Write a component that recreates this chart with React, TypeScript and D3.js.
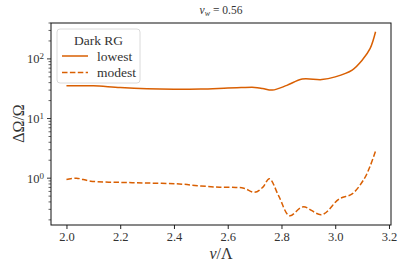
import { useRef, useEffect } from 'react'
import * as d3 from 'd3'

const vValuesLowest = [2.0, 2.05, 2.1, 2.2, 2.3, 2.4, 2.5, 2.6, 2.65, 2.7, 2.73, 2.766, 2.82, 2.877, 2.95, 3.0, 3.063, 3.1, 3.13, 3.15]
const lowest = [35.5, 35.5, 35.5, 33, 31.5, 31, 31.3, 32.5, 33, 33.3, 32, 30, 36, 46, 45, 50, 65, 95, 150, 285]

const vValuesModest = [2.0, 2.037, 2.09, 2.2, 2.3, 2.42, 2.5, 2.57, 2.63, 2.66, 2.7, 2.73, 2.755, 2.79, 2.83, 2.88, 2.95, 3.015, 3.063, 3.108, 3.13, 3.15]
const modest = [0.95, 1.0, 0.89, 0.85, 0.83, 0.8, 0.74, 0.705, 0.70, 0.68, 0.58, 0.7, 0.98, 0.5, 0.235, 0.33, 0.245, 0.45, 0.545, 0.98, 1.6, 2.85]

const xTicks = [2.0, 2.2, 2.4, 2.6, 2.8, 3.0, 3.2]
const yMajorExps = [0, 1, 2]

const seriesColor = '#d95f02'
const serif = "'Liberation Serif', 'DejaVu Serif', serif"

export default function App() {
  const ref = useRef<SVGSVGElement>(null)

  useEffect(() => {
    if (!ref.current) return
    const root = d3.select(ref.current)
    root.selectAll('*').remove()

    const margin = { top: 23, right: 16, bottom: 46, left: 51 }
    const width = 407 - margin.left - margin.right
    const height = 271 - margin.top - margin.bottom

    const svg = root.append('g').attr('transform', `translate(${margin.left},${margin.top})`)

    const x = d3.scaleLinear().domain([1.9425, 3.2075]).range([0, width])
    const y = d3.scaleLog().domain([0.164, 400]).range([height, 0])

    // X axis
    const xAxis = svg
      .append('g')
      .attr('transform', `translate(0,${height})`)
      .call(d3.axisBottom(x).tickValues(xTicks).tickFormat(d3.format('.1f')).tickSize(4).tickPadding(3))
    xAxis.select('.domain').remove()
    xAxis.attr('font-family', null).attr('font-size', null)
    xAxis.selectAll('text').style('font-family', serif).style('font-size', '12.5px').attr('fill', '#333')
    xAxis.selectAll('line').attr('stroke', '#222')

    // Y axis minor ticks
    const minor: number[] = []
    for (let e = -1; e <= 2; e++) {
      for (let m = 2; m <= 9; m++) {
        const v = m * Math.pow(10, e)
        if (v >= 0.164 && v <= 400) minor.push(v)
      }
    }
    svg
      .append('g')
      .selectAll('line')
      .data(minor)
      .join('line')
      .attr('x1', -2.5)
      .attr('x2', 0)
      .attr('y1', (d) => y(d))
      .attr('y2', (d) => y(d))
      .attr('stroke', '#222')
      .attr('stroke-width', 0.7)

    const yMaj = svg.append('g')
    yMajorExps.forEach((e) => {
      const yy = y(Math.pow(10, e))
      yMaj.append('line').attr('x1', -4).attr('x2', 0).attr('y1', yy).attr('y2', yy).attr('stroke', '#222').attr('stroke-width', 0.9)
      const t = yMaj
        .append('text')
        .attr('x', -7)
        .attr('y', yy)
        .attr('dy', '0.35em')
        .attr('text-anchor', 'end')
        .style('font-family', serif)
        .style('font-size', '12.5px')
        .attr('fill', '#333')
      t.append('tspan').text('10')
      t.append('tspan').attr('dy', '-0.45em').style('font-size', '9px').text(String(e))
    })

    // Frame
    svg
      .append('rect')
      .attr('x', 0)
      .attr('y', 0)
      .attr('width', width)
      .attr('height', height)
      .attr('fill', 'none')
      .attr('stroke', '#111')
      .attr('stroke-width', 1)

    const line = d3
      .line<[number, number]>()
      .x((d) => x(d[0]))
      .y((d) => y(d[1]))
      .curve(d3.curveCatmullRom.alpha(0.5))

    svg
      .append('path')
      .datum(vValuesLowest.map((v, i) => [v, lowest[i]] as [number, number]))
      .attr('d', line)
      .attr('fill', 'none')
      .attr('stroke', seriesColor)
      .attr('stroke-width', 1.5)

    svg
      .append('path')
      .datum(vValuesModest.map((v, i) => [v, modest[i]] as [number, number]))
      .attr('d', line)
      .attr('fill', 'none')
      .attr('stroke', seriesColor)
      .attr('stroke-width', 1.5)
      .attr('stroke-dasharray', '5.5,2.4')

    // Legend
    const legend = svg.append('g').attr('transform', 'translate(6,6)')
    legend
      .append('rect')
      .attr('width', 83)
      .attr('height', 54)
      .attr('rx', 3)
      .attr('fill', 'white')
      .attr('fill-opacity', 0.8)
      .attr('stroke', '#d0d0d0')
      .attr('stroke-width', 0.8)
    legend
      .append('text')
      .attr('x', 41.5)
      .attr('y', 11)
      .attr('dy', '0.35em')
      .attr('text-anchor', 'middle')
      .style('font-family', serif)
      .style('font-size', '13.5px')
      .attr('fill', '#333')
      .text('Dark RG')
    const entries = [
      { label: 'lowest', dash: null },
      { label: 'modest', dash: '5.5,2.4' },
    ]
    entries.forEach((ent, i) => {
      const yy = 27 + i * 16.5
      legend
        .append('line')
        .attr('x1', 5)
        .attr('x2', 31)
        .attr('y1', yy)
        .attr('y2', yy)
        .attr('stroke', seriesColor)
        .attr('stroke-width', 1.5)
        .attr('stroke-dasharray', ent.dash)
      legend
        .append('text')
        .attr('x', 40)
        .attr('y', yy)
        .attr('dy', '0.35em')
        .style('font-family', serif)
        .style('font-size', '13.5px')
        .attr('fill', '#333')
        .text(ent.label)
    })

    // Title
    const title = svg
      .append('text')
      .attr('x', width / 2)
      .attr('y', -9)
      .attr('text-anchor', 'middle')
      .style('font-family', serif)
      .style('font-size', '11.5px')
      .attr('fill', '#333')
    title.append('tspan').style('font-style', 'italic').text('v')
    title.append('tspan').style('font-style', 'italic').style('font-size', '8px').attr('dy', '2').text('w')
    title.append('tspan').attr('dy', '-2').text(' = 0.56')

    // X label
    const xl = svg
      .append('text')
      .attr('x', width / 2)
      .attr('y', height + 34)
      .attr('text-anchor', 'middle')
      .style('font-family', serif)
      .style('font-size', '16px')
      .attr('fill', '#333')
    xl.append('tspan').style('font-style', 'italic').text('v')
    xl.append('tspan').text('/Λ')

    // Y label
    svg
      .append('text')
      .attr('transform', `translate(-27,${100.5}) rotate(-90)`)
      .attr('text-anchor', 'middle')
      .style('font-family', serif)
      .style('font-size', '16px')
      .attr('fill', '#333')
      .text('ΔΩ/Ω')
  }, [])

  return (
    <svg
      ref={ref}
      width={407}
      height={271}
      style={{ position: 'absolute', left: 0, top: 0, background: 'white', fontFamily: serif }}
    />
  )
}
